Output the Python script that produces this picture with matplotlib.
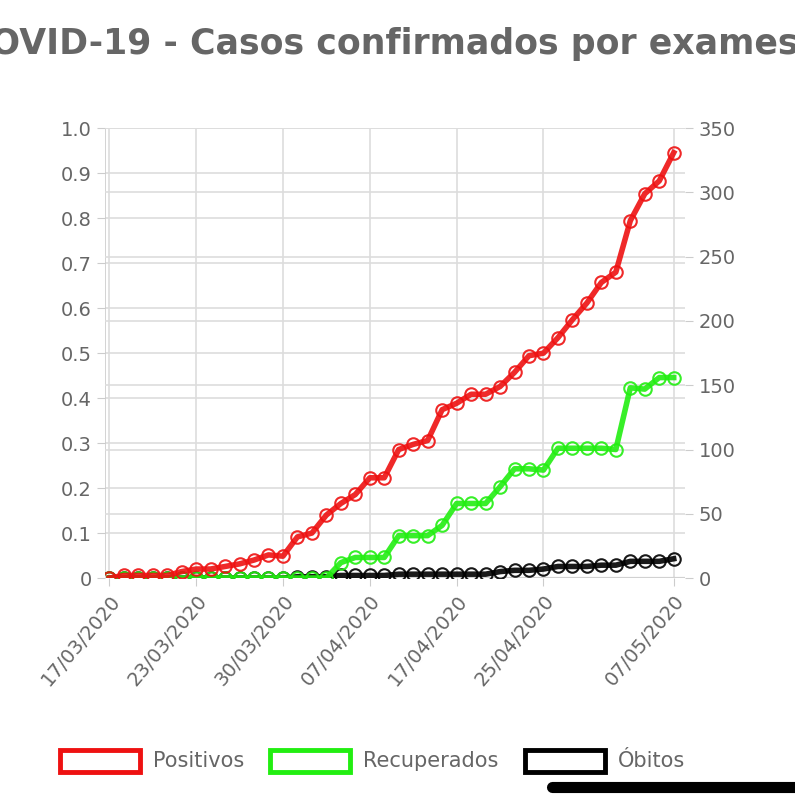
import matplotlib
matplotlib.use("Agg")
import matplotlib.pyplot as plt
from matplotlib.patches import Rectangle
from matplotlib.lines import Line2D

positivos = [0,2,2,2,2,5,7,7,9,11,14,18,17,32,35,49,58,65,78,78,
             100,104,107,131,136,143,143,149,160,173,175,187,201,214,230,238,278,299,309,331]
recuperados = [0]*16 + [12,16,16,16,33,33,33,41,58,58,58,71,85,85,84,101,101,101,101,100,148,147,156,156]
obitos = [0]*13 + [1,1,1,2,2,2,2,3,3,3,3,3,3,3,5,6,6,7,9,9,9,10,10,13,13,13,15]
tick_idx = [0,6,12,18,24,30,39]
tick_labels = ["17/03/2020","23/03/2020","30/03/2020","07/04/2020","17/04/2020","25/04/2020","07/05/2020"]

fig = plt.figure(figsize=(7.95,8.09), dpi=100)
ax = fig.add_axes([0.132,0.2855,0.730,0.556])
ax2 = ax.twinx()
x = list(range(len(positivos)))
for ys, c in [(obitos,'#000000'),(recuperados,'#22ee11'),(positivos,'#ee1111')]:
    ax2.plot(x, ys, color=c, lw=4, marker='o', ms=9, mfc='none', mec=c, mew=1.5, alpha=0.9)
ax.set_ylim(0,1); ax2.set_ylim(0,350)
ax.set_xlim(-0.3,39.8)
ax.set_yticks([i/10 for i in range(11)])
ax.set_yticklabels(['0']+[f"{i/10:.1f}" for i in range(1,11)])
ax2.set_yticks(range(0,351,50))
ax.set_xticks(tick_idx)
ax.set_xticklabels(tick_labels, rotation=50, ha='right', rotation_mode='anchor')
for a in (ax, ax2):
    a.tick_params(labelsize=14, colors='#666666', length=6, color='#cccccc')
    for s in a.spines.values():
        s.set_visible(False)
ax.grid(True, color='#dddddd', lw=1.2)
for v in range(0,351,50):
    ax2.axhline(v, color='#dddddd', lw=1.2, zorder=0)
ax.axhline(0, color='#999999', lw=1.5)
ax.axvline(-0.3, color='#cccccc', lw=1.2)
ax2.set_zorder(ax.get_zorder()+1); ax2.patch.set_visible(False)

fig.text(0.48, 0.945, "COVID-19 - Casos confirmados por exames", ha='center', va='center',
         fontsize=25, fontweight='bold', color='#666666', family='DejaVu Sans')

items = [(60,'#ee1111','Positivos'),(270,'#22ee11','Recuperados'),(525,'#000000','Óbitos')]
for px, c, t in items:
    fig.patches.append(Rectangle((px/795, (809-772)/809), 80/795, 22/809, transform=fig.transFigure,
                                 fill=False, edgecolor=c, lw=3.5))
    fig.text((px+93)/795, (809-761)/809, t, fontsize=15, color='#666666', va='center')
fig.lines.append(Line2D([552/795, 1.0],[(809-787)/809]*2, transform=fig.transFigure, color='black', lw=8,
                        solid_capstyle='round'))
fig.savefig("out.png")
